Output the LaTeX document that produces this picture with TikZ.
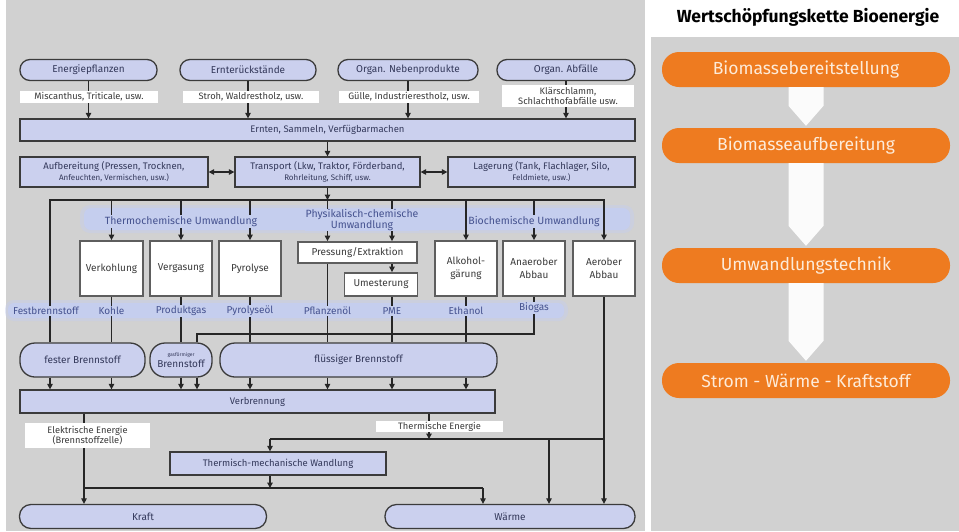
\documentclass[tikz,border=0pt]{standalone}
\usepackage{fontspec}
\setmainfont{Fira Sans}
\usetikzlibrary{arrows.meta,calc}
\definecolor{bgc}{HTML}{D1D1D1}
\definecolor{lav}{HTML}{CBD0EE}
\definecolor{bord}{HTML}{3B3B3B}
\definecolor{wbord}{HTML}{5E5E5E}
\definecolor{lnc}{HTML}{262626}
\definecolor{bandc}{HTML}{C5CEEE}
\definecolor{btxt}{HTML}{45528F}
\definecolor{ntxt}{HTML}{33385A}
\definecolor{gtxt}{HTML}{3A3A3A}
\definecolor{orng}{HTML}{EE7B20}
\definecolor{otxt}{HTML}{FDEBD9}
\newcommand\fsz[2]{\fontsize{#1}{#2}\selectfont}
\begin{document}
\begin{tikzpicture}[x=1pt,y=-1pt,
  every node/.style={inner sep=0pt, align=center},
  sz/.style 2 args={minimum width=#1pt, minimum height=#2pt},
  pill/.style={rectangle, draw=bord, fill=lav, line width=1.3pt, text=ntxt, font=\fsz{10}{11}},
  lavbox/.style={rectangle, draw=bord, fill=lav, line width=1.3pt, text=ntxt, font=\fsz{9.5}{11}},
  wbox/.style={rectangle, draw=wbord, fill=white, line width=1.8pt, text=gtxt, font=\fsz{10}{12.5}},
  wlbl/.style={fill=white, text=gtxt, font=\fsz{9.3}{10.5}},
  blbl/.style={fill=bandc, text=btxt, font=\fsz{10.5}{10.5}, inner xsep=1pt, inner ysep=1pt},
  olbl/.style={fill=bandc, text=btxt, font=\fsz{10}{11}, inner xsep=1.5pt, inner ysep=1.5pt},
  ln/.style={draw=lnc, line width=1.2pt},
  arr/.style={ln, -{Triangle[length=5.5pt,width=5.5pt]}},
  darr/.style={ln, {Triangle[length=5.5pt,width=5.5pt]}-{Triangle[length=5.5pt,width=5.5pt]}},
  opill/.style={rectangle, rounded corners=17pt, fill=orng, text=otxt, font=\fsz{17.5}{19}, minimum width=288pt, minimum height=35pt},
  warr/.style={fill=white, fill opacity=0.92}
]
\useasboundingbox (0,0) rectangle (959,531);
\fill[white] (0,0) rectangle (959,531);
\fill[bgc] (6,0) rectangle (645,531);
\fill[bgc] (651,37) rectangle (959,531);

% bands
\fill[bandc, opacity=0.45, rounded corners=10pt] (80,205) rectangle (634,233);
\fill[bandc, rounded corners=7pt] (84,208) rectangle (630,230);
\fill[bandc, opacity=0.45, rounded corners=9pt] (5,300) rectangle (568,321);
\fill[bandc, rounded corners=6pt] (8,303) rectangle (564,318);

% top pills
\node[pill, sz={137}{21}, rounded corners=10pt] (e1) at (88.5,70) {Energiepflanzen};
\node[pill, sz={136}{21}, rounded corners=10pt] (e2) at (248,70) {Ernterückstände};
\node[pill, sz={140}{21}, rounded corners=10pt] (e3) at (408,70) {Organ. Nebenprodukte};
\node[pill, sz={138}{21}, rounded corners=10pt] (e4) at (566,70) {Organ. Abfälle};

\node[lavbox, sz={615}{22}] (ern) at (327.5,130) {Ernten, Sammeln, Verfügbarmachen};
\node[lavbox, sz={188}{30}] (auf) at (114,172) {Aufbereitung (Pressen, Trocknen,\\{\fsz{8}{10}Anfeuchten, Vermischen, usw.)}};
\node[lavbox, sz={185}{30}] (tra) at (327.5,172) {Transport (Lkw, Traktor, Förderband,\\{\fsz{8}{10}Rohrleitung, Schiff, usw.}};
\node[lavbox, sz={187}{30}] (lag) at (541.5,172) {Lagerung (Tank, Flachlager, Silo,\\{\fsz{8}{10}Feldmiete, usw.)}};

% process boxes
\node[wbox, sz={63}{55}] (vk) at (111.5,268.5) {Verkohlung};
\node[wbox, sz={62}{55}] (vg) at (181,268.5) {Vergasung};
\node[wbox, sz={62}{55}] (py) at (250,268.5) {Pyrolyse};
\node[wbox, sz={119}{21}] (pe) at (357.5,252.5) {Pressung/Extraktion};
\node[wbox, sz={73}{23}] (um) at (381,284.5) {Umesterung};
\node[wbox, sz={62}{55}] (ak) at (466,268.5) {Alkohol-\\gärung};
\node[wbox, sz={62}{55}] (an) at (534,268.5) {Anaerober\\Abbau};
\node[wbox, sz={62}{55}] (ae) at (604,268.5) {Aerober\\Abbau};

% fuels
\node[pill, sz={125}{34}, rounded corners=15pt] (fb) at (82.5,360) {fester Brennstoff};
\node[pill, sz={62}{34}, rounded corners=15pt] (gb) at (181,360) {{\fsz{5}{6}gasförmiger}\\Brennstoff};
\node[pill, sz={277}{34}, rounded corners=15pt] (fl) at (358.5,360) {flüssiger Brennstoff};

\node[lavbox, sz={475}{23}] (verb) at (257.5,401.5) {Verbrennung};
\node[lavbox, sz={216}{23}] (tm) at (278,463.5) {Thermisch-mechanische Wandlung};
\node[pill, sz={247}{24}, rounded corners=11.5pt] (kraft) at (143,516.5) {Kraft};
\node[pill, sz={250}{24}, rounded corners=11.5pt] (waerme) at (510,516.5) {Wärme};

% junctions
\coordinate (J) at (327.5,200);
\coordinate (BL) at (50,200);
\coordinate (P2) at (392,200);
\coordinate (BG) at (197,334);
\coordinate (K1) at (84,488);
\coordinate (T0) at (270,439);
\coordinate (T1) at (270,488);
\coordinate (TE) at (429,439);
\coordinate (W1) at (483,488);
\coordinate (W2) at (549,439);

% connectors
\foreach \n in {e1,e2,e3,e4} \draw[arr] (\n.south) -- (\n.south |- ern.north);
\draw[arr] (tra.north |- ern.south) -- (tra.north);
\draw[darr] (auf.east) -- (tra.west);
\draw[darr] (tra.east) -- (lag.west);
\draw[arr] (tra.south) -- (J);
\draw[arr] (BL |- fb.north) -- (BL) -- (ae.north |- BL) -- (ae.north);
\foreach \n in {vk,vg,py,ak,an} \draw[arr] (\n.north |- J) -- (\n.north);
\draw[arr] (J) -- (J |- pe.north);
\draw[arr] (P2) -- (P2 |- pe.north);
\draw[arr] (P2 |- pe.south) -- (P2 |- um.north);

\draw[ln] (vk.south) -- (vk.south |- fb.north);
\draw[ln] (vg.south) -- (gb.north);
\draw[ln] (py.south) -- (py.south |- fl.north);
\draw[ln] (J |- pe.south) -- (J |- fl.north);
\draw[ln] (P2 |- um.south) -- (P2 |- fl.north);
\draw[ln] (ak.south) -- (ak.south |- fl.north);
\draw[ln] (an.south) -- (an.south |- BG) -- (BG) -- (BG |- gb.north);
\draw[arr] (ae.south) -- (ae.south |- waerme.north);

\draw[arr] (BL |- fb.south) -- (BL |- verb.north);
\draw[arr] (vk.south |- fb.south) -- (vk.south |- verb.north);
\draw[arr] (gb.south) -- (gb.south |- verb.north);
\draw[arr] (BG |- gb.south) -- (BG |- verb.north);
\draw[arr] (py.south |- fl.south) -- (py.south |- verb.north);
\draw[arr] (J |- fl.south) -- (J |- verb.north);
\draw[arr] (P2 |- fl.south) -- (P2 |- verb.north);
\draw[arr] (ak.south |- fl.south) -- (ak.south |- verb.north);

\draw[arr] (K1 |- verb.south) -- (K1 |- kraft.north);
\draw[arr] (TE |- verb.south) -- (TE);
\draw[ln] (T0) -- (ae.south |- T0);
\draw[arr] (T0) -- (T0 |- tm.north);
\draw[arr] (W2) -- (W2 |- waerme.north);
\draw[arr] (T1 |- tm.south) -- (T1);
\draw[ln] (K1) -- (W1);
\draw[arr] (W1) -- (W1 |- waerme.north);

% white labels
\node[wlbl, sz={138}{12}] (l1) at (89,96.5) {Miscanthus, Triticale, usw.};
\node[wlbl, sz={136}{12}] (l2) at (251,96.5) {Stroh, Waldrestholz, usw.};
\node[wlbl, sz={140}{12}] (l3) at (409,96.5) {Gülle, Industrierestholz, usw.};
\node[wlbl, sz={132}{22}] (l4) at (568,96) {Klärschlamm,\\Schlachthofabfälle usw.};
\node[wlbl, sz={125}{25}] (l5) at (87.5,435.5) {Elektrische Energie\\(Brennstoffzelle)};
\node[wlbl, sz={127}{11}] (l6) at (439.5,426.5) {Thermische Energie};

% category labels
\node[blbl] (c1) at (181,221.5) {Thermochemische Umwandlung};
\node[blbl] (c2) at (362,220) {Physikalisch-chemische\\Umwandlung};
\node[blbl] (c3) at (534,221.5) {Biochemische Umwandlung};

% output labels
\node[olbl] (q1) at (46,311) {Festbrennstoff};
\node[olbl] (q2) at (111.5,311) {Kohle};
\node[olbl] (q3) at (181,311) {Produktgas};
\node[olbl] (q4) at (250,311) {Pyrolyseöl};
\node[olbl] (q5) at (327.5,311) {Pflanzenöl};
\node[olbl] (q6) at (392,311) {PME};
\node[olbl] (q7) at (466,311) {Ethanol};
\node[olbl] (q8) at (534,308) {Biogas};

% right panel
\node[font=\fsz{17.5}{19}\bfseries, text=black] (title) at (808,17) {Wertschöpfungskette Bioenergie};
\node[opill] (o1) at (806,69.5) {Biomassebereitstellung};
\node[opill] (o2) at (806,145.5) {Biomasseaufbereitung};
\node[opill] (o3) at (806,265.5) {Umwandlungstechnik};
\node[opill] (o4) at (806,380.5) {Strom - Wärme - Kraftstoff};
\fill[warr] ($(o1.south)+(-17.5,0)$) -- ($(o1.south)+(17.5,0)$) -- ($(o2.north)+(17.5,-22)$) -- ($(o2.north)+(0,-2)$) -- ($(o2.north)+(-17.5,-22)$) -- cycle;
\fill[warr] ($(o2.south)+(-17.5,0)$) -- ($(o2.south)+(17.5,0)$) -- ($(o3.north)+(17.5,-22)$) -- ($(o3.north)+(0,-2)$) -- ($(o3.north)+(-17.5,-22)$) -- cycle;
\fill[warr] ($(o3.south)+(-17.5,0)$) -- ($(o3.south)+(17.5,0)$) -- ($(o4.north)+(17.5,-22)$) -- ($(o4.north)+(0,-2)$) -- ($(o4.north)+(-17.5,-22)$) -- cycle;
\end{tikzpicture}
\end{document}
